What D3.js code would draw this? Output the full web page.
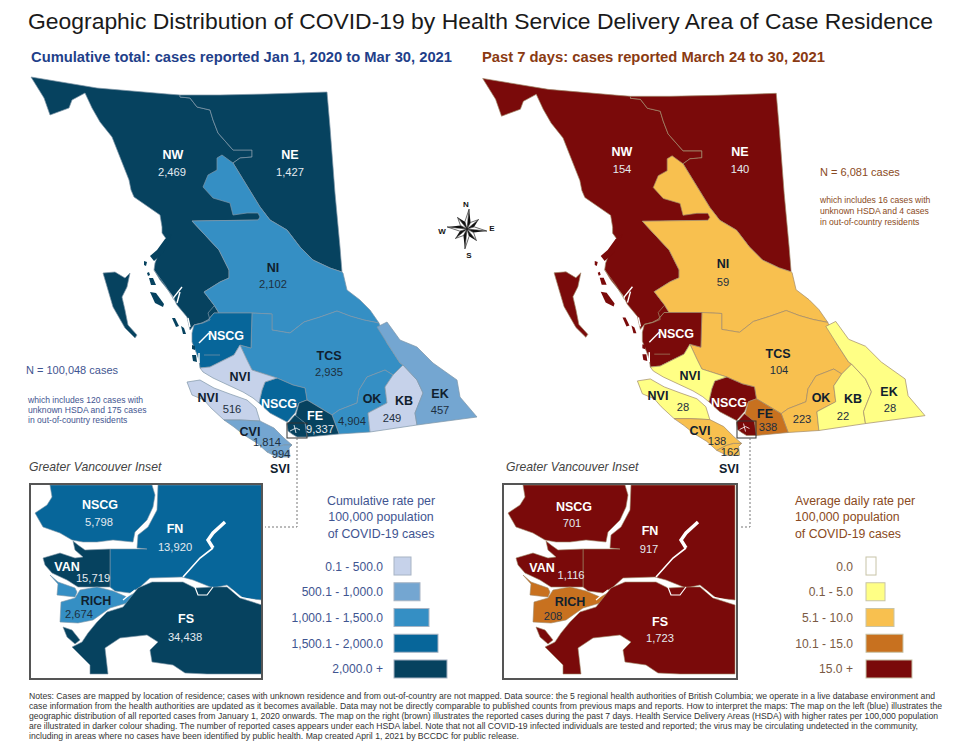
<!DOCTYPE html>
<html>
<head>
<meta charset="utf-8">
<script src="https://cdn.jsdelivr.net/npm/d3@7"></script>
<style>
  body { margin: 0; background: #fff; }
  text { font-family: "Liberation Sans", Arial, sans-serif; }
</style>
</head>
<body>
<svg id="chart" width="960" height="743"></svg>
<script>
// main map areas, in the order they are painted
const areas = ["NW","NE","NI","TCS","OK","KB","EK","NSCG_N","NSCG_S","NVI_M","NVI_I","CVI","SVI","FE","HG","MV"];
// colour class (0-4)
const cumClass  = [4,4,2,2,2,0,1,3,3,0,0,1,1,4,4,4];
const weekClass = [4,4,2,2,2,1,1,4,4,1,1,2,2,3,4,4];

// inset areas
const insetAreas = ["NSCG","FN","VAN","RICH_A","RICH_B","FS","FS_B"];
const insetCumClass  = [3,3,4,2,2,4,4];
const insetWeekClass = [4,4,4,3,3,4,4];

// legend
const cumColors  = ["#c6d2ea","#74a6d1","#358fc4","#07669a","#06425f"];
const weekColors = ["#ffffff","#ffff85","#f8c04f","#c8711f","#7a0a0a"];
const cumLegend  = ["0.1 - 500.0","500.1 - 1,000.0","1,000.1 - 1,500.0","1,500.1 - 2,000.0","2,000.0 +"];
const weekLegend = ["0.0","0.1 - 5.0","5.1 - 10.0","10.1 - 15.0","15.0 +"];

// labels: name, cumulative count, past 7 days count
const labelNames = ["NW","NE","NI","NSCG","TCS","NVI","NVI","NSCG","FE","OK","KB","EK","CVI","SVI"];
const cumValues  = ["2,469","1,427","2,102","","2,935","","516","","9,337","4,904","249","457","1,814","994"];
const weekValues = ["154","140","59","","104","","28","","338","223","22","28","138","162"];
const insetNames = ["NSCG","FN","VAN","RICH","FS"];
const insetCum   = ["5,798","13,920","15,719","2,674","34,438"];
const insetWeek  = ["701","917","1,116","208","1,723"];

const notes = [
  "Notes: Cases are mapped by location of residence; cases with unknown residence and from out-of-country are not mapped. Data source: the 5 regional health authorities of British Columbia; we operate in a live database environment and",
  "case information from the health authorities are updated as it becomes available. Data may not be directly comparable to published counts from previous maps and reports. How to interpret the maps: The map on the left (blue) illustrates the",
  "geographic distribution of all reported cases from January 1, 2020 onwards. The map on the right (brown) illustrates the reported cases during the past 7 days. Health Service Delivery Areas (HSDA) with higher rates per 100,000 population",
  "are illustrated in darker colour shading. The number of reported cases appears under each HSDA label. Note that not all COVID-19 infected individuals are tested and reported; the virus may be circulating undetected in the community,",
  "including in areas where no cases have been identified by public health. Map created April 1, 2021 by BCCDC for public release."
];
const noteEnds = [935,942,938,918,519];

// outlines
const nwNeBorder = [[180,95],[180,97],[190,98],[197,107],[210,110],[213,120],[218,133],[233,150],[252,150],[252,157],[240,158],[233,163]];
const niNorthEast = [[233,163],[260,207],[270,220],[287,230],[300,247],[313,260],[330,268],[342,272]];
const tcsNorth = [[252,313],[272,314],[272,330],[290,333],[304,322],[320,317],[337,311],[350,316],[364,320],[379,323]];
const niWest = [[192,221],[205,235],[219,250],[229,270],[229,278],[220,282],[204,292],[214,305],[219,313]];

const outlines = {
  NW: [[31,77],[97,88],[167,94],[180,95],...nwNeBorder.slice(1),[260,207],[268,220],...niWest,[214,313],[208,320],[202,323],[194,325],[190,330],[187,317],[177,305],[172,295],[160,280],[154,270],[155,263],[160,250],[167,240],[162,233],[162,227],[160,215],[134,197],[131,190],[129,180],[112,137],[100,122],[92,108],[85,93],[72,100],[69,108],[50,115],[44,98]],
  NE: [...nwNeBorder,...niNorthEast.slice(1),[340,247],[335,193],[330,127],[327,92],[267,94],[220,95]],
  NI: [[192,221],[258,220],[260,217],[258,213],[247,213],[233,215],[230,203],[213,198],[203,187],[208,175],[217,170],[217,158],[222,155],...niNorthEast,[343,273],[347,290],[360,300],[370,310],[379,323],...tcsNorth.slice().reverse(),...niWest.slice().reverse()],
  TCS: [...tcsNorth,[387,343],[400,363],[403,365],[393,375],[385,370],[367,377],[359,390],[357,403],[339,410],[332,415],[307,400],[305,388],[293,385],[277,378],[252,370],[247,360],[240,345],[251,348]],
  OK: [[385,370],[393,375],[385,387],[387,403],[368,413],[370,432],[339,434],[332,415],[339,410],[357,403],[359,390],[367,377]],
  KB: [[403,365],[417,380],[423,393],[415,413],[417,425],[370,432],[368,413],[387,403],[385,387],[393,375]],
  EK: [[377,327],[387,322],[400,340],[417,347],[433,363],[457,380],[460,397],[477,417],[417,425],[415,413],[423,393],[417,380],[403,365],[400,363],[387,343]],
  NSCG_N: [[214,313],[219,313],[252,313],[251,348],[240,345],[234,355],[220,362],[210,367],[200,368],[199,360],[196,352],[192,342],[192,333],[194,325],[202,323],[208,320]],
  NSCG_S: [[265,382],[277,378],[293,385],[305,388],[307,400],[299,403],[295,413],[287,422],[270,413],[259,403],[262,390]],
  NVI_M: [[240,345],[247,360],[252,370],[277,378],[265,382],[262,390],[259,403],[253,398],[243,392],[228,385],[213,378],[203,372],[200,368],[210,367],[220,362],[234,355]],
  NVI_I: [[187,382],[200,380],[214,388],[230,394],[247,400],[256,408],[260,421],[240,420],[224,420],[211,408],[204,400],[192,395]],
  CVI: [[224,420],[240,420],[260,421],[274,428],[284,438],[292,445],[284,445],[277,447],[267,452],[257,443],[244,435],[234,427]],
  SVI: [[267,452],[277,447],[284,445],[292,445],[289,448],[290,457],[277,457]],
  FE: [[299,403],[307,400],[332,415],[339,434],[307,437],[305,423],[295,418]],
  HG: [[103,273],[115,272],[125,278],[130,273],[127,287],[122,297],[125,310],[128,325],[137,335],[135,338],[125,328],[113,307],[108,290]],
  MV: [[287,424],[295,415],[305,423],[307,437],[297,437],[292,434],[288,431]]
};

// small coast islands, painted with NW
const coastIslands = [
  [[150,256],[157,250],[165,239],[172,234],[163,253],[154,261]],
  [[144,261],[147,262],[146,266],[144,265]],
  [[147,273],[149,272],[150,275],[148,276]],
  [[149,278],[153,278],[156,285],[151,285]],
  [[150,292],[156,293],[164,304],[163,307],[155,303]],
  [[172,318],[175,318],[179,326],[176,327]],
  [[181,326],[184,328],[186,334],[183,334]],
  [[192,345],[195,346],[195,350],[192,349]],
  [[192,355],[196,355],[197,362],[193,361]]
];
// channels through the mainland coast
const channels = [
  [[182,287],[174,297],[170,308]],
  [[180,292],[177,303]],
  [[188,318],[190,327]],
  [[199,343],[209,333]],
  [[199,353],[199,363]]
];
const greyChannels = [
  [[154,270],[165,285],[174,300]],
  [[204,355],[220,355]],
  [[194,325],[203,323],[210,320],[208,313],[214,306]]
];
const boxChannels = [
  [[290,431],[296,428],[300,430]],
  [[294,425],[296,433]]
];

const insetOutlines = {
  NSCG: [[50,485],[152,485],[155,495],[153,507],[147,520],[135,532],[133,542],[113,540],[97,542],[83,542],[72,540],[60,533],[43,527],[35,513],[47,505],[52,497]],
  FN: [[158,485],[262,485],[262,600],[243,598],[227,585],[213,588],[193,580],[182,577],[150,578],[140,587],[130,593],[115,591],[110,587],[110,549],[147,549],[137,548],[138,535],[148,527],[157,510]],
  VAN: [[43,558],[60,553],[75,558],[83,557],[75,550],[73,541],[78,545],[85,550],[110,549],[110,587],[88,587],[78,587],[67,580],[52,573],[45,565]],
  RICH_A: [[50,575],[58,582],[75,588],[77,592],[75,597],[57,595],[58,584]],
  RICH_B: [[80,590],[97,587],[113,591],[127,597],[137,592],[127,603],[110,608],[93,620],[78,623],[60,622],[61,602],[75,598]],
  FS: [[152,582],[183,582],[195,588],[213,587],[227,587],[240,598],[262,605],[262,674],[207,674],[185,673],[173,665],[152,662],[150,650],[158,642],[147,635],[120,638],[105,648],[108,674],[90,674],[90,665],[72,647],[82,642],[88,633],[97,622],[107,612],[123,607],[138,588]],
  FS_B: [[63,627],[72,630],[80,640],[75,644],[67,637]]
};
const insetRiverTop = [[225,522],[213,533],[208,540],[213,548]];
const insetRiverLow = [[213,548],[200,558],[183,577]];
const insetThin = [
  [[193,582],[198,595],[207,595],[213,587]],
  [[123,600],[135,590]],
  [[232,590],[240,597],[262,602]]
];

// label anchors (same order as labelNames), name then count
const labelPos = [[173,154],[290,154],[273,267],[226,335],[329,355],[240,376],[208,397],[279,403],[315,415],[372,398],[404,400],[440,393],[250,431],[280,468]];
const cumValuePos = [[172,172],[290,172],[273,284],null,[329,372],null,[232,409],null,[320,429],[352,421],[392,418],[440,410],[267,442],[281,454]];
const weekLabelPos = [[622,151],[740,151],[723,263],[676,333],[778,353],[690,375],[658,395],[729,402],[765,413],[821,397],[853,398],[889,391],[700,430],[729,468]];
const weekValuePos = [[622,169],[740,169],[723,282],null,[779,370],null,[683,407],null,[768,427],[802,419],[843,416],[890,408],[717,441],[730,452]];
const insetLabelPos = [[100,504],[175,528],[67,566],[96,600],[186,618]];
const insetValuePos = [[99,522],[175,547],[93,578],[79,614],[185,637]];
const insetWeekLabelPos = [[574,506],[650,530],[542,567],[570,601],[660,621]];
const insetWeekValuePos = [[572,523],[649,549],[571,575],[553,616],[660,638]];

const svg = d3.select("#chart");

const ringShape = pts => ({ type: "Polygon", coordinates: [[...pts, pts[0]]] });
const lineShape = pts => ({ type: "LineString", coordinates: pts });

function strokeLines(g, path, lines, color, width) {
  g.append("g").selectAll("path")
    .data(lines).enter().append("path")
      .attr("d", d => path(lineShape(d)))
      .attr("fill", "none")
      .attr("stroke", color).attr("stroke-width", width);
}

function drawMap(projection, classes, colors, edge) {
  const path = d3.geoPath(projection);
  const g = svg.append("g");

  g.selectAll("path.area")
    .data(areas).enter().append("path")
      .attr("class", "area")
      .attr("d", d => path(ringShape(outlines[d])))
      .attr("fill", (d,i) => colors[classes[i]])
      .attr("stroke", edge).attr("stroke-width", 0.7);

  g.selectAll("path.island")
    .data(coastIslands).enter().append("path")
      .attr("class", "island")
      .attr("d", d => path(ringShape(d)))
      .attr("fill", colors[classes[0]]);

  strokeLines(g, path, channels, "#fff", 1.4);
  strokeLines(g, path, greyChannels, edge, 0.7);
  strokeLines(g, path, boxChannels, "#fff", 0.8);
}

function drawInset(dx, x0, x1, classes, colors, edge) {
  const path = d3.geoPath(d3.geoIdentity().translate([dx, 0]));
  const g = svg.append("g");

  g.selectAll("path.area")
    .data(insetAreas).enter().append("path")
      .attr("class", "area")
      .attr("d", d => path(ringShape(insetOutlines[d])))
      .attr("fill", (d,i) => colors[classes[i]])
      .attr("stroke", edge).attr("stroke-width", 0.6);

  strokeLines(g, path, [insetRiverTop], "#fff", 3.4);
  strokeLines(g, path, [insetRiverLow], "#fff", 1.6);
  strokeLines(g, path, insetThin, "#fff", 1.2);

  g.append("rect")
    .attr("x", x0).attr("y", 484)
    .attr("width", x1 - x0).attr("height", 195)
    .attr("fill", "none")
    .attr("stroke", "#555").attr("stroke-width", 2);
}

function addLabels(names, namePos, values, valuePos, darkIdx) {
  names.forEach((n,i) => {
    const dark = darkIdx.includes(i);
    svg.append("text")
      .attr("x", namePos[i][0]).attr("y", namePos[i][1] + 4.5)
      .attr("text-anchor", "middle")
      .attr("font-size", 12.5).attr("font-weight", "bold")
      .attr("fill", dark ? "#10202e" : "#fff")
      .text(n);
    if (values[i]) {
      svg.append("text")
        .attr("x", valuePos[i][0]).attr("y", valuePos[i][1] + 4)
        .attr("text-anchor", "middle")
        .attr("font-size", 11.2)
        .attr("fill", dark ? "#1d2f40" : "#e4eaf0")
        .text(values[i]);
    }
  });
}

function drawLegend(x0, unit, base, labels, colors, stroke, textColor, labelX) {
  const y = d3.scaleBand().domain(d3.range(5)).range([557, 678]).paddingInner(0.3);
  const w = d3.scaleLinear().domain([0,4]).range([base, base + 4*unit]);
  const g = svg.append("g");
  g.selectAll("rect")
    .data(labels).enter().append("rect")
      .attr("x", x0)
      .attr("y", (d,i) => y(i))
      .attr("width", (d,i) => w(i))
      .attr("height", y.bandwidth())
      .attr("fill", (d,i) => colors[i])
      .attr("stroke", stroke).attr("stroke-width", 1);
  g.selectAll("text")
    .data(labels).enter().append("text")
      .attr("x", labelX)
      .attr("y", (d,i) => y(i) + y.bandwidth()/2 + 4.5)
      .attr("text-anchor", "end")
      .attr("font-size", 12.1)
      .attr("fill", textColor)
      .text(d => d);
}

function textLines(lines, x, ys, size, color, anchor) {
  lines.forEach((t,i) => {
    svg.append("text")
      .attr("x", x).attr("y", ys[i])
      .attr("text-anchor", anchor || "start")
      .attr("font-size", size)
      .attr("fill", color)
      .text(t);
  });
}

// headings
svg.append("text")
  .attr("x", 28).attr("y", 29)
  .attr("font-size", 21.5)
  .attr("textLength", 905).attr("lengthAdjust", "spacingAndGlyphs")
  .attr("fill", "#1a1a1a")
  .text("Geographic Distribution of COVID-19 by Health Service Delivery Area of Case Residence");
svg.append("text")
  .attr("x", 31).attr("y", 62)
  .attr("font-size", 14).attr("font-weight", "bold")
  .attr("textLength", 421).attr("lengthAdjust", "spacingAndGlyphs")
  .attr("fill", "#1f3f8a")
  .text("Cumulative total: cases reported Jan 1, 2020 to Mar 30, 2021");
svg.append("text")
  .attr("x", 482).attr("y", 62)
  .attr("font-size", 14).attr("font-weight", "bold")
  .attr("textLength", 343).attr("lengthAdjust", "spacingAndGlyphs")
  .attr("fill", "#8a3a12")
  .text("Past 7 days: cases reported March 24 to 30, 2021");

// maps: the right one is drawn a touch smaller than the left
const rightK = 0.9917;
drawMap(d3.geoIdentity(), cumClass, cumColors, "#7f97a8");
drawMap(d3.geoIdentity().scale(rightK).translate([482.7 - 31*rightK, 2.1]), weekClass, weekColors, "#a08a6a");

// inset pointer boxes and dotted leaders
const leaders = [
  { box: [287,423,20,15], pts: [[297,438],[297,527],[265,527]] },
  { box: [737,421,19,17], pts: [[750,438],[750,527],[740,527]] }
];
leaders.forEach(l => {
  svg.append("rect")
    .attr("x", l.box[0]).attr("y", l.box[1])
    .attr("width", l.box[2]).attr("height", l.box[3])
    .attr("fill", "none").attr("stroke", "#333").attr("stroke-width", 1);
  svg.append("path")
    .attr("d", d3.line()(l.pts))
    .attr("fill", "none")
    .attr("stroke", "#777").attr("stroke-width", 1)
    .attr("stroke-dasharray", "2,2");
});

// insets
drawInset(0, 30, 262, insetCumClass, cumColors, "#7f97a8");
drawInset(473, 503, 737, insetWeekClass, weekColors, "#a08a6a");

// map labels; index lists are the ones set in dark text
addLabels(labelNames, labelPos, cumValues, cumValuePos, [2,4,5,6,9,10,11,12,13]);
addLabels(labelNames, weekLabelPos, weekValues, weekValuePos, [2,4,5,6,8,9,10,11,12,13]);
addLabels(insetNames, insetLabelPos, insetCum, insetValuePos, [3]);
addLabels(insetNames, insetWeekLabelPos, insetWeek, insetWeekValuePos, [3]);

// N = text blocks
textLines(["N = 100,048 cases"], 26, [374], 11, "#3f5591");
textLines(["which includes 120 cases with","unknown HSDA and 175 cases","in out-of-country residents"], 28, [403,413,423], 8.6, "#3f5591");
textLines(["N = 6,081 cases"], 820, [176], 11, "#8a4a22");
textLines(["which includes 16 cases with","unknown HSDA and 4 cases","in out-of-country residents"], 820, [203,214,225], 8.6, "#8a4a22");

// inset titles
[29,506].forEach(x => {
  svg.append("text")
    .attr("x", x).attr("y", 471)
    .attr("font-size", 12.2).attr("font-style", "italic")
    .attr("fill", "#444")
    .text("Greater Vancouver Inset");
});

// legends
textLines(["Cumulative rate per","100,000 population","of COVID-19 cases"], 381, [505,521,538], 12.4, "#3f5591", "middle");
textLines(["Average daily rate per","100,000 population","of COVID-19 cases"], 795, [505,521,538], 12.3, "#8a4a22");
drawLegend(394, 9, 17, cumLegend, cumColors, "#a8b4c4", "#3f5591", 383);
drawLegend(866, 9, 10, weekLegend, weekColors, "#c8c4a8", "#7a5a44", 853);

// compass
const compass = svg.append("g").attr("transform", "translate(467,229) rotate(6)");
d3.range(8).forEach(i => {
  const long = i % 2 === 0 ? 20 : 15;
  const a = i * Math.PI / 4;
  const pt = (r, t) => [r * Math.sin(t), -r * Math.cos(t)];
  const side = Math.PI / 8;
  compass.append("path")
    .attr("d", d3.line()([[0,0], pt(long, a), pt(7.5, a + side)]) + "Z")
    .attr("fill", "#111");
  compass.append("path")
    .attr("d", d3.line()([[0,0], pt(long, a), pt(7.5, a - side)]) + "Z")
    .attr("fill", "#fff").attr("stroke", "#111").attr("stroke-width", 0.6);
});
const compassLetters = ["N","E","S","W"];
const compassPos = [[466,204],[492,228],[469,255],[442,231]];
compassLetters.forEach((t,i) => {
  svg.append("text")
    .attr("x", compassPos[i][0]).attr("y", compassPos[i][1] + 3)
    .attr("text-anchor", "middle")
    .attr("font-size", 8).attr("font-weight", "bold")
    .attr("fill", "#111")
    .text(t);
});

// footnote
notes.forEach((t,i) => {
  svg.append("text")
    .attr("x", 29).attr("y", 699 + i*10)
    .attr("font-size", 8.6)
    .attr("textLength", noteEnds[i] - 29).attr("lengthAdjust", "spacingAndGlyphs")
    .attr("fill", "#333")
    .text(t);
});
</script>
</body>
</html>
